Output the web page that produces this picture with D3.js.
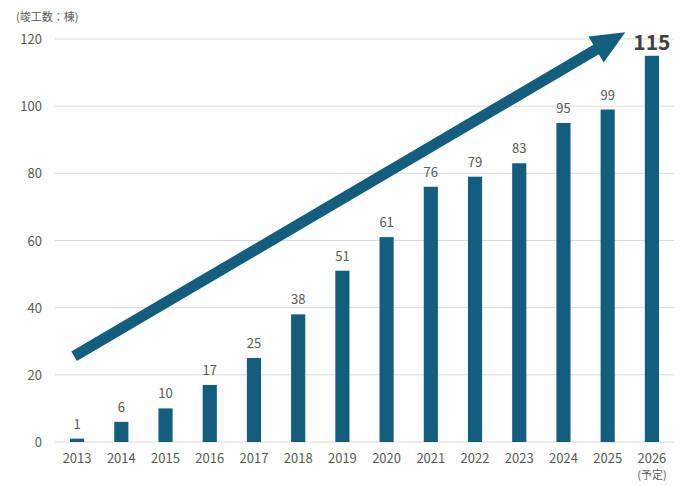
<!DOCTYPE html>
<html>
<head>
<meta charset="utf-8">
<script src="https://cdn.jsdelivr.net/npm/d3@7"></script>
<style>
  body { margin: 0; background: #fff; }
  text { font-family: "Noto Sans CJK JP", "Noto Sans", sans-serif; }
</style>
</head>
<body>
<svg id="chart"></svg>
<script>
// Data
const years = ["2013", "2014", "2015", "2016", "2017", "2018", "2019", "2020", "2021", "2022", "2023", "2024", "2025", "2026"];
const counts = [1, 6, 10, 17, 25, 38, 51, 61, 76, 79, 83, 95, 99, 115];
const yTicks = [0, 20, 40, 60, 80, 100, 120];
const unitLabel = "(竣工数：棟)";
const planNote = "(予定)";

const width = 700, height = 486;
const margin = {top: 39, bottom: 44, left: 55, right: 26};
const barColor = "#135e7e";

const svg = d3.select("#chart")
    .attr("width", width)
    .attr("height", height);

const xScale = d3.scaleBand()
    .domain(years)
    .range([margin.left, width - margin.right])
    .paddingInner(0.68)
    .paddingOuter(0.34);

const yScale = d3.scaleLinear()
    .domain([0, 120])
    .range([height - margin.bottom, margin.top]);

// Gridlines
svg.append("g")
    .selectAll("line")
    .data(yTicks)
    .enter().append("line")
    .attr("x1", margin.left)
    .attr("x2", width - margin.right)
    .attr("y1", d => yScale(d))
    .attr("y2", d => yScale(d))
    .attr("stroke", "#d9d9d9")
    .attr("stroke-width", 1);

// y tick labels
svg.append("g")
    .selectAll("text")
    .data(yTicks)
    .enter().append("text")
    .attr("x", 42)
    .attr("y", d => yScale(d) + 5)
    .attr("text-anchor", "end")
    .attr("font-size", 13)
    .attr("fill", "#595959")
    .text(d => d);

// Unit label
svg.append("text")
    .attr("x", 16)
    .attr("y", 21)
    .attr("font-size", 11)
    .attr("fill", "#595959")
    .text(unitLabel);

// Bars
const data = years.map((y, i) => ({year: y, value: counts[i]}));
svg.selectAll("rect.bar")
    .data(data)
    .enter().append("rect")
    .attr("class", "bar")
    .attr("x", d => xScale(d.year))
    .attr("y", d => yScale(d.value))
    .attr("width", xScale.bandwidth())
    .attr("height", d => yScale(0) - yScale(d.value))
    .attr("fill", barColor);

// Value labels
const last = years[years.length - 1];
svg.selectAll("text.val")
    .data(data)
    .enter().append("text")
    .attr("class", "val")
    .attr("x", d => xScale(d.year) + xScale.bandwidth() / 2)
    .attr("y", d => d.year === last ? yScale(d.value) - 6 : yScale(d.value) - 10)
    .attr("text-anchor", "middle")
    .attr("font-size", d => d.year === last ? 21 : 13)
    .attr("font-weight", d => d.year === last ? "bold" : "normal")
    .attr("fill", d => d.year === last ? "#404040" : "#595959")
    .text(d => d.value);

// x tick labels
svg.selectAll("text.xt")
    .data(years)
    .enter().append("text")
    .attr("class", "xt")
    .attr("x", d => xScale(d) + xScale.bandwidth() / 2)
    .attr("y", height - margin.bottom + 21)
    .attr("text-anchor", "middle")
    .attr("font-size", 13)
    .attr("fill", "#595959")
    .text(d => d);

svg.append("text")
    .attr("x", xScale(last) + xScale.bandwidth() / 2)
    .attr("y", height - margin.bottom + 37)
    .attr("text-anchor", "middle")
    .attr("font-size", 11)
    .attr("fill", "#595959")
    .text(planNote);

// Trend arrow
const step = xScale.step();
const cx = y => xScale(y) + xScale.bandwidth() / 2;
const start = [cx("2013") - 3, yScale(25.5)];
const tip = [cx("2025") + 0.4 * step, yScale(122)];
const ang = Math.atan2(tip[1] - start[1], tip[0] - start[0]);
const headLen = 34, headHalf = 15;
const base = [tip[0] - headLen * Math.cos(ang), tip[1] - headLen * Math.sin(ang)];

svg.append("line")
    .attr("x1", start[0])
    .attr("y1", start[1])
    .attr("x2", base[0] + 4 * Math.cos(ang))
    .attr("y2", base[1] + 4 * Math.sin(ang))
    .attr("stroke", barColor)
    .attr("stroke-width", 11);

const nx = -Math.sin(ang), ny = Math.cos(ang);
svg.append("path")
    .attr("d", d3.line()([
        tip,
        [base[0] + nx * headHalf, base[1] + ny * headHalf],
        [base[0] - nx * headHalf, base[1] - ny * headHalf]
    ]) + "Z")
    .attr("fill", barColor);
</script>
</body>
</html>
